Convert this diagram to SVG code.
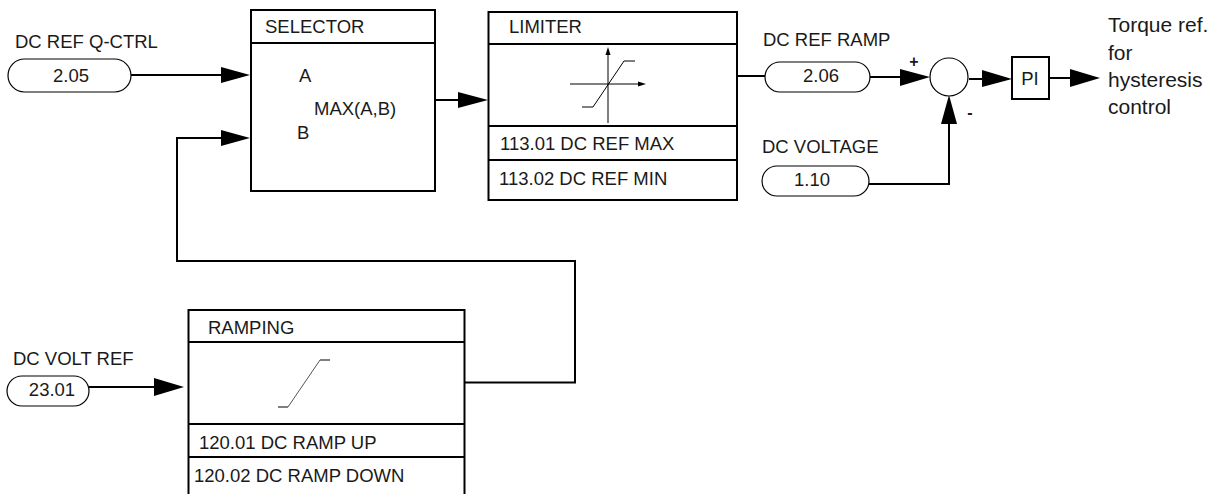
<svg xmlns="http://www.w3.org/2000/svg" width="1218" height="494" viewBox="0 0 1218 494">
<defs>
<style>
text{font-family:"Liberation Sans",Arial,sans-serif;font-size:18.5px;fill:#1a1a1a}
.m{text-anchor:middle}
.s{font-size:16px;font-weight:bold}
.o{font-size:21px}
.b{fill:#fff;stroke:#000;stroke-width:2}
.l{fill:none;stroke:#000;stroke-width:2}
.p{fill:#fff;stroke:#000;stroke-width:1.2}
.t{fill:none;stroke:#000;stroke-width:1}
.g{fill:none;stroke:#555;stroke-width:1}
.h{fill:#000}
</style>
</defs>
<rect width="1218" height="494" fill="#fff"/>
<g id="connectors">
<path class="l" d="M131 75H222"/><polygon class="h" points="221,67 250,75 221,83"/>
<path class="l" d="M177 262V138H222"/><polygon class="h" points="221,130 250,138 221,146"/>
<path class="l" d="M177 261H575V382.500H465"/>
<path class="l" d="M436 100H460"/><polygon class="h" points="458,92 488,100 458,108"/>
<path class="l" d="M737 76H765"/>
<path class="l" d="M870 77H902"/><polygon class="h" points="900,69 930,77 900,86"/>
<path class="l" d="M969 79H984"/><polygon class="h" points="982,70 1012,79 982,87"/>
<path class="l" d="M1050 78H1072"/><polygon class="h" points="1070,69 1100,78 1070,87"/>
<path class="l" d="M869 184H949V122"/><polygon class="h" points="941,124 949,95 957,124"/>
<path class="l" d="M89 387H156"/><polygon class="h" points="154,378 184,387 154,396"/>
</g>
<g id="dc-ref-q-ctrl">
<text x="15" y="48">DC REF Q-CTRL</text>
<rect class="p" x="8" y="59" width="123" height="33" rx="16.5"/>
<text class="m" x="71" y="82">2.05</text>
</g>
<g id="selector">
<rect class="b" x="251" y="10" width="184" height="181"/>
<path class="l" d="M251 43H435"/>
<text x="265" y="33">SELECTOR</text>
<text x="299" y="82">A</text>
<text x="314" y="115">MAX(A,B)</text>
<text x="297" y="139">B</text>
</g>
<g id="limiter">
<rect class="b" x="488.500" y="12" width="248.500" height="188"/>
<path class="l" d="M489 44H737M488 126H737M488 160H737"/>
<text x="509" y="33">LIMITER</text>
<path class="t" d="M608 123V50M570 84H643M582 107H593L624 61H635"/>
<polygon class="h" points="605.500,55 608,47 610.500,55"/>
<polygon class="h" points="638,81.500 646,84 638,86.500"/>
<text x="500" y="150">113.01 DC REF MAX</text>
<text x="499" y="185">113.02 DC REF MIN</text>
</g>
<g id="dc-ref-ramp">
<text x="763" y="46">DC REF RAMP</text>
<rect class="p" x="765" y="62" width="105" height="30" rx="15"/>
<text class="m" x="821" y="82">2.06</text>
</g>
<g id="dc-voltage">
<text x="762" y="153">DC VOLTAGE</text>
<rect class="p" x="762" y="166" width="107" height="30" rx="15"/>
<text class="m" x="812" y="186">1.10</text>
</g>
<g id="sum">
<circle class="p" cx="949" cy="77" r="19"/>
<text class="m s" x="914" y="67">+</text>
<text class="m s" x="970" y="118">-</text>
</g>
<g id="pi">
<rect class="b" x="1012" y="57" width="37" height="42"/>
<text class="m" x="1030" y="85">PI</text>
</g>
<g id="output">
<text class="o" x="1108" y="32">Torque ref.</text>
<text class="o" x="1108" y="60">for</text>
<text class="o" x="1108" y="87">hysteresis</text>
<text class="o" x="1108" y="114">control</text>
</g>
<g id="dc-volt-ref">
<text x="13" y="365">DC VOLT REF</text>
<rect class="p" x="7" y="376" width="82" height="30" rx="15"/>
<text class="m" x="52" y="395.500">23.01</text>
</g>
<g id="ramping">
<path class="l" d="M188.500 495V310H464.500V495M188 342H465M188 424H465M188 457H465"/>
<text x="208" y="334">RAMPING</text>
<path class="t" d="M278 407H288M320 360H330"/>
<path class="g" d="M288 407L320 360"/>
<text x="199" y="449">120.01 DC RAMP UP</text>
<text x="194" y="482">120.02 DC RAMP DOWN</text>
</g>
</svg>
